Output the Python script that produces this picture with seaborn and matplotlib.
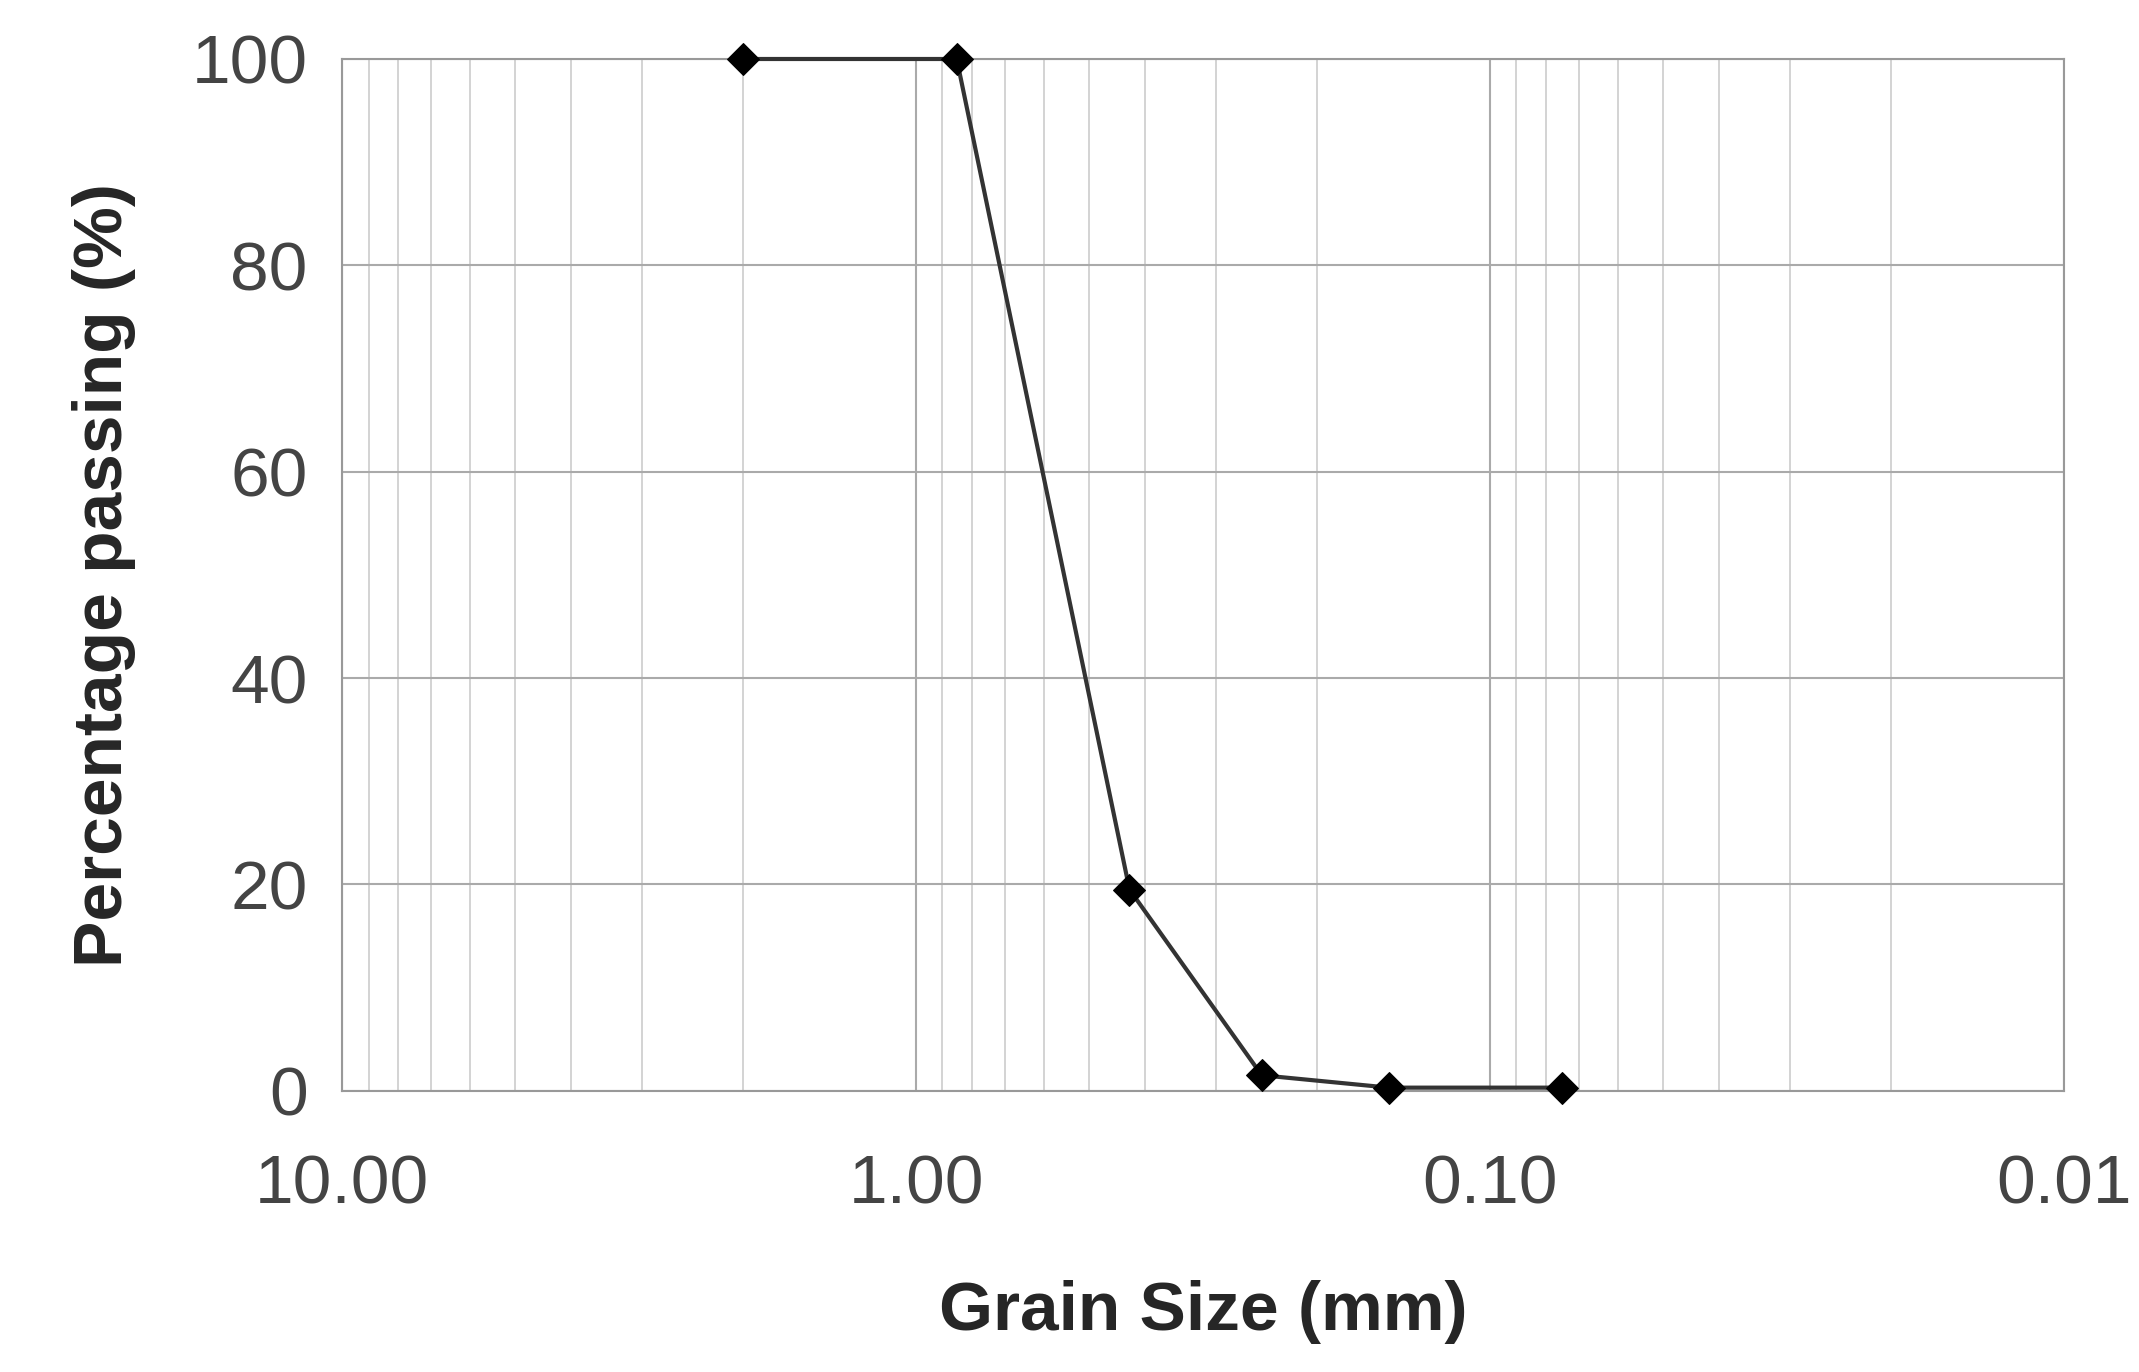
import numpy as np
import pandas as pd
import matplotlib.pyplot as plt
import seaborn as sns
from matplotlib.ticker import LogLocator, FixedLocator

sns.set_style("white")
plt.rcParams['font.family'] = ['Liberation Sans', 'DejaVu Sans']

grain_size = [2.0, 0.85, 0.425, 0.25, 0.15, 0.075]
passing = [100, 100, 19.5, 1.5, 0.3, 0.3]
df = pd.DataFrame({"size": grain_size, "passing": passing})

fig, ax = plt.subplots(figsize=(21.39, 13.72), dpi=100)
fig.subplots_adjust(left=0.16, right=0.965, bottom=0.205, top=0.957)
sns.lineplot(x="size", y="passing", data=df, ax=ax, color="#333333",
             linewidth=3, marker="D", markersize=16, markerfacecolor="black",
             markeredgecolor="black", clip_on=False, zorder=5)
ax.set_xscale("log")
ax.set_xlim(10, 0.01)
ax.set_ylim(0, 100)
ax.xaxis.set_major_locator(FixedLocator([10, 1, 0.1, 0.01]))
ax.set_xticklabels(["10.00", "1.00", "0.10", "0.01"])
ax.xaxis.set_minor_locator(LogLocator(base=10, subs=np.arange(2, 10)))
ax.xaxis.set_minor_formatter(plt.NullFormatter())
ax.set_yticks([0, 20, 40, 60, 80, 100])
ax.grid(which="major", color="#aaaaaa", linewidth=1.5)
ax.grid(which="minor", axis="x", color="#cccccc", linewidth=1.2)
for s in ax.spines.values():
    s.set_color("#999999")
    s.set_linewidth(1.5)
ax.tick_params(axis="both", which="major", labelsize=50, labelcolor="#444444", pad=25, length=0)
ax.tick_params(axis="x", pad=45)
ax.set_xlabel("Grain Size (mm)", fontsize=50, fontweight="bold", labelpad=45)
ax.set_ylabel("Percentage passing (%)", fontsize=50, fontweight="bold", labelpad=40)
fig.savefig("out.png")
